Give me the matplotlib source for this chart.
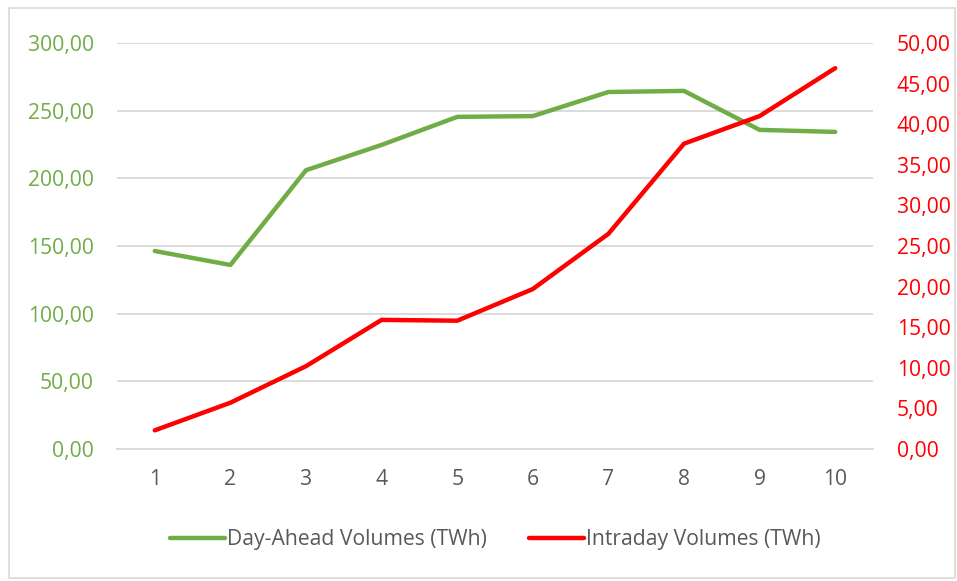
import matplotlib
matplotlib.use("Agg")
import matplotlib.pyplot as plt
from matplotlib.ticker import FuncFormatter
from matplotlib.patches import Rectangle

categories = [1, 2, 3, 4, 5, 6, 7, 8, 9, 10]
day_ahead = [146.3, 136.0, 206.0, 224.7, 245.4, 246.0, 263.8, 264.6, 235.8, 234.3]
intraday = [2.3, 5.7, 10.2, 15.9, 15.8, 19.7, 26.5, 37.6, 41.0, 46.9]
left_ticks = [0, 50, 100, 150, 200, 250, 300]
right_ticks = [0, 5, 10, 15, 20, 25, 30, 35, 40, 45, 50]

GREEN = "#70AD47"
RED = "#FF0000"
GRID = "#D9D9D9"
TXT = "#595959"
FS = 15.2

plt.rcParams['font.family'] = ['Open Sans', 'DejaVu Sans']

fig = plt.figure(figsize=(9.57, 5.81), dpi=100)
fig.patches.append(Rectangle((9/957, 1-578/581), 946/957, 570/581, transform=fig.transFigure,
                             fill=False, edgecolor="#D9D9D9", linewidth=1.2))
ax = fig.add_axes([117/957, 1-449/581, 756/957, 406/581])
ax2 = ax.twinx()

fmt = FuncFormatter(lambda v, p: f"{v:.2f}".replace(".", ","))

ax.set_xlim(0.5, 10.5)
ax.set_ylim(0, 300)
ax.set_yticks(left_ticks)
ax.yaxis.set_major_formatter(fmt)
ax.set_xticks(categories)
ax.set_xticklabels([str(c) for c in categories])
ax.grid(axis='y', color=GRID, linewidth=1.3)
ax.set_axisbelow(True)
for s in ax.spines.values():
    s.set_visible(False)
ax.spines['bottom'].set_visible(True)
ax.spines['bottom'].set_color(GRID)
ax.spines['bottom'].set_linewidth(1.3)
ax.tick_params(axis='y', colors=GREEN, labelsize=FS, length=0, pad=16.5)
ax.tick_params(axis='x', colors=TXT, labelsize=FS, length=0, pad=14.5)

ax2.set_ylim(0, 50)
ax2.set_yticks(right_ticks)
ax2.yaxis.set_major_formatter(fmt)
for s in ax2.spines.values():
    s.set_visible(False)
ax2.tick_params(axis='y', colors=RED, labelsize=FS, length=0, pad=17)

l1, = ax.plot(categories, day_ahead, color=GREEN, linewidth=3.2, solid_capstyle='round', zorder=3)
l2, = ax2.plot(categories, intraday, color=RED, linewidth=3.2, solid_capstyle='round', zorder=3)

fig.legend([l1, l2], ["Day-Ahead Volumes (TWh)", "Intraday Volumes (TWh)"],
           loc='center', bbox_to_anchor=(495/957, 1-540/581), ncol=2, frameon=False,
           fontsize=FS, labelcolor=TXT, handlelength=2.6, handletextpad=0.1, columnspacing=2.0)

fig.savefig("out.png", dpi=100)
